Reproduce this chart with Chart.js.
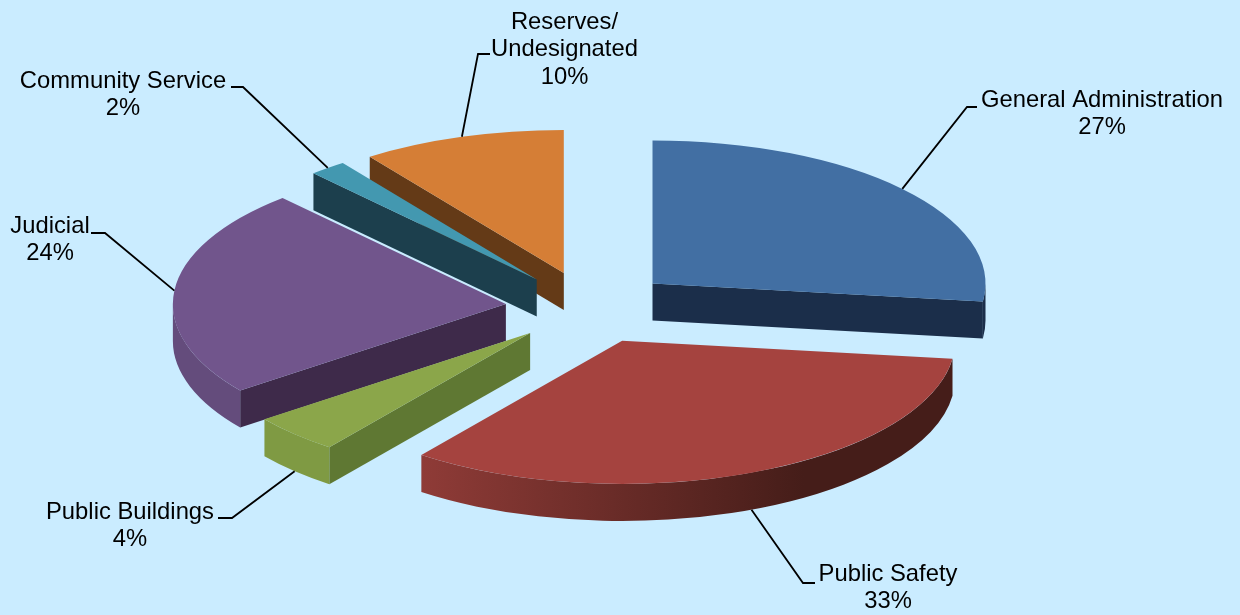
<!DOCTYPE html>
<html>
<head>
<meta charset="utf-8">
<style>
  html, body { margin: 0; padding: 0; background: #caecff; }
  canvas { display: block; }
</style>
<script src="https://cdn.jsdelivr.net/npm/chart.js@4/dist/chart.umd.min.js"></script>
</head>
<body>
<canvas id="budgetChart" width="1240" height="615"></canvas>
<script>
// data
const categories = ['General Administration', 'Public Safety', 'Public Buildings', 'Judicial', 'Community Service', ['Reserves/', 'Undesignated']];
const percents = [27, 33, 4, 24, 2, 10];    // as printed on the labels
const shares = [27, 33.3, 4.4, 23.6, 1.8, 9.9]; // unrounded

// colours per slice: top face, cut wall, rim wall (left, right)
const topColors = ['#426fa3', '#a5433f', '#8ba64a', '#71558c', '#4398b0', '#d57e36'];
const cutColors = ['#1b2e4a', '#4a1f1b', '#5f7833', '#3e2a4a', '#1c3f4d', '#643a17'];
const rimLeft = ['#1b2e4a', '#8f3b37', '#7f9a43', '#644c7c', '#1c3f4d', '#643a17'];
const rimRight = ['#1b2e4a', '#451d19', '#7f9a43', '#644c7c', '#1c3f4d', '#643a17'];

// look of the fake 3d
const TILT = 0.43;      // vertical squash
const DEPTH = 37;       // wall height on screen
const EXPLODE = 84;     // how far slices are pulled out
const RADIUS = 333;

// label text spot and leader elbow, same order as categories
const labelSpots = [
  { x: 1102, y: 100, elbowX: 967, elbowY: 107, endX: 977 },
  { x: 888, y: 574, elbowX: 803, elbowY: 583, endX: 815 },
  { x: 130, y: 512, elbowX: 232, elbowY: 518, endX: 218 },
  { x: 50, y: 226, elbowX: 105, elbowY: 233, endX: 91 },
  { x: 123, y: 81, elbowX: 243, elbowY: 87, endX: 231 },
  { x: 564.5, y: 22, elbowX: 478, elbowY: 54, endX: 490 }
];
const LINE_HEIGHT = 27.5;

// slices are pulled out by moving the arc itself (the offset option also grows small slices)
function explodeArcs(chart) {
  chart.getDatasetMeta(0).data.forEach(arc => {
    const mid = (arc.startAngle + arc.endAngle) / 2;
    arc.x += Math.cos(mid) * EXPLODE;
    arc.y += Math.sin(mid) * EXPLODE;
  });
}

function drawCutWall(ctx, arc, angle, drop) {
  const { x, y, outerRadius: r } = arc;
  ctx.beginPath();
  ctx.moveTo(x, y);
  ctx.lineTo(x + Math.cos(angle) * r, y + Math.sin(angle) * r);
  ctx.lineTo(x + Math.cos(angle) * r, y + Math.sin(angle) * r + drop);
  ctx.lineTo(x, y + drop);
  ctx.closePath();
  ctx.fill();
}

function drawWalls(chart) {
  const ctx = chart.ctx;
  const drop = DEPTH / TILT;
  const arcs = chart.getDatasetMeta(0).data.map((arc, i) => ({ arc, i }));
  arcs.sort((a, b) => a.arc.y - b.arc.y); // back slices first

  arcs.forEach(({ arc, i }) => {
    const { x, y, startAngle: a, endAngle: b, outerRadius: r } = arc;

    // cut walls, only when they face the viewer
    ctx.fillStyle = cutColors[i];
    if (Math.cos(a) < -1e-6) drawCutWall(ctx, arc, a, drop);
    if (Math.cos(b) > 1e-6) drawCutWall(ctx, arc, b, drop);

    // rim, only the part that faces the viewer
    const from = Math.max(a, 0);
    const to = Math.min(b, Math.PI);
    if (to > from) {
      const grad = ctx.createLinearGradient(x + Math.cos(to) * r, 0, x + Math.cos(from) * r * 0.55, 0);
      grad.addColorStop(0, rimLeft[i]);
      grad.addColorStop(1, rimRight[i]);
      ctx.fillStyle = grad;
      ctx.beginPath();
      ctx.arc(x, y, r, from, to);
      ctx.arc(x, y + drop, r, to, from, true);
      ctx.closePath();
      ctx.fill();
    }
  });
}

function drawLabels(chart) {
  const ctx = chart.ctx;
  const pivot = (chart.chartArea.top + chart.chartArea.bottom) / 2;

  chart.getDatasetMeta(0).data.forEach((arc, i) => {
    const spot = labelSpots[i];
    const mid = (arc.startAngle + arc.endAngle) / 2;
    const rimX = arc.x + Math.cos(mid) * arc.outerRadius;
    let rimY = pivot + (arc.y + Math.sin(mid) * arc.outerRadius - pivot) * TILT;
    if (Math.sin(mid) > 0) rimY += DEPTH; // front slices: leader starts under the wall

    ctx.strokeStyle = '#000';
    ctx.lineWidth = 1.8;
    ctx.beginPath();
    ctx.moveTo(rimX, rimY);
    ctx.lineTo(spot.elbowX, spot.elbowY);
    ctx.lineTo(spot.endX, spot.elbowY);
    ctx.stroke();

    const lines = [].concat(categories[i], percents[i] + '%');
    ctx.fillStyle = '#000';
    ctx.font = '23.8px "Liberation Sans", Arial, sans-serif';
    ctx.textAlign = 'center';
    ctx.textBaseline = 'middle';
    lines.forEach((line, n) => ctx.fillText(line, spot.x, spot.y + n * LINE_HEIGHT));
  });
}

const tiltPlugin = {
  id: 'tilt',
  afterDatasetsUpdate: explodeArcs,
  beforeDatasetsDraw(chart) {
    const ctx = chart.ctx;
    const pivot = (chart.chartArea.top + chart.chartArea.bottom) / 2;
    ctx.save();
    ctx.translate(0, pivot);
    ctx.scale(1, TILT);
    ctx.translate(0, -pivot);
    drawWalls(chart);
  },
  afterDatasetsDraw(chart) {
    chart.ctx.restore();
    drawLabels(chart);
  }
};

new Chart(document.getElementById('budgetChart').getContext('2d'), {
  type: 'pie',
  data: {
    labels: categories,
    datasets: [{
      data: shares,
      backgroundColor: topColors,
      borderWidth: 0,
      radius: RADIUS,
      clip: false
    }]
  },
  options: {
    responsive: false,
    animation: false,
    layout: { padding: { right: 61 } },
    events: [],
    plugins: {
      legend: { display: false },
      tooltip: { enabled: false }
    }
  },
  plugins: [tiltPlugin]
});
</script>
</body>
</html>
